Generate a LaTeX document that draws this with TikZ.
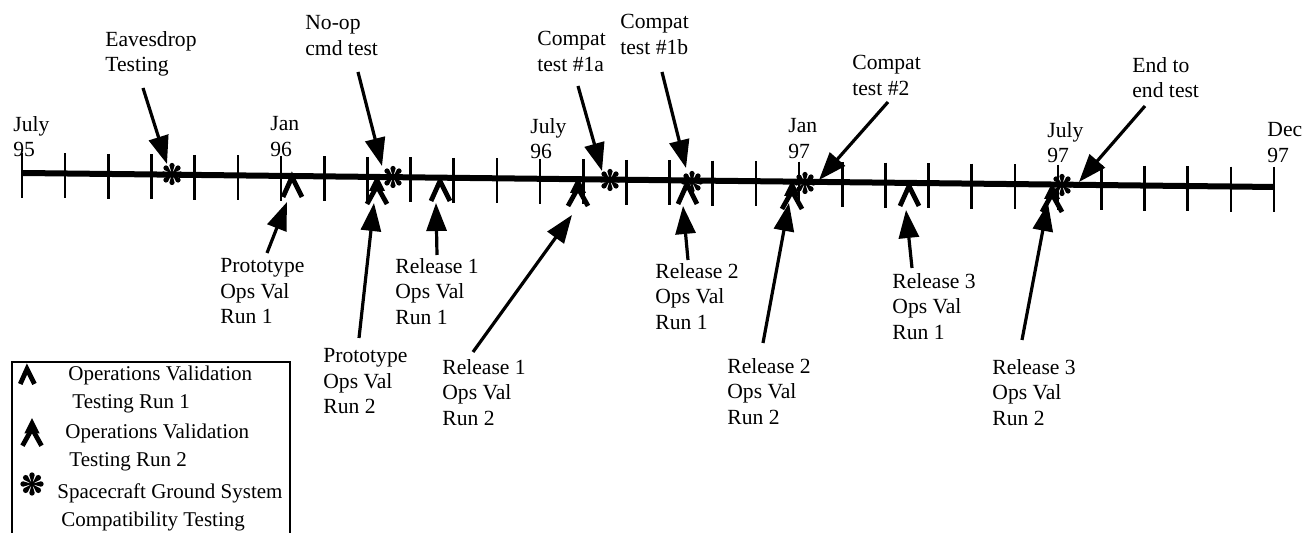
\documentclass[tikz,border=0pt]{standalone}
\usepackage{fontspec}
\setmainfont{Liberation Serif}
\usetikzlibrary{arrows.meta}
\begin{document}
\begin{tikzpicture}[x=0.5pt,y=-0.5pt,
  lbl/.style={anchor=north west, inner sep=0pt, align=left, font=\fontsize{10.8}{12.8}\selectfont},
  leg/.style={anchor=north west, inner sep=0pt, align=left, font=\fontsize{10.5}{14}\selectfont},
  pointer/.style={line width=1.6pt, -{Triangle[length=14pt,width=10pt]}},
  axis/.style={line width=3pt},
  tickmark/.style={line width=1.3pt},
  runone/.pic={\draw[line width=2.4pt, line join=miter] (-9,20) -- (0,0) -- (10,20);},
  runtwo/.pic={\fill (0,-3) -- (-8,13) -- (8,13) -- cycle;
               \draw[line width=2.4pt, line join=miter] (-10,26) -- (0,8) -- (10,26);},
  compat/.pic={\foreach \a in {0,45,...,315}{\fill[rotate=\a] (0,0) -- (8.5,2.6) arc (90:-90:2.6) -- cycle;}
               \fill (0,0) circle (2.5);}
]
\useasboundingbox (0,0) rectangle (1314,533);

% timeline
\coordinate (tlstart) at (22,173);
\coordinate (tlend) at (1274,187);
\draw[axis] (tlstart) -- (tlend);
\foreach \i in {0,...,29}{
  \pgfmathsetmacro\xx{22+\i*43.172}
  \pgfmathsetmacro\yy{173+\i*14/29}
  \draw[tickmark] (\xx,\yy-20) -- (\xx,\yy+25);
}

% month labels
\node[lbl] (m1) at (13,116) {July\\95};
\node[lbl] (m2) at (270,116) {Jan\\96};
\node[lbl] (m3) at (530,118) {July\\96};
\node[lbl] (m4) at (788,118) {Jan\\97};
\node[lbl] (m5) at (1047,122) {July\\97};
\node[lbl] (m6) at (1267,122) {Dec\\97};

% symbols on the timeline
\pic at (172,174) {compat};
\pic at (393,177) {compat};
\pic at (610,180) {compat};
\pic at (692,182) {compat};
\pic at (805,183) {compat};
\pic at (1062,185) {compat};

\pic at (292,177) {runone};
\pic at (440,181) {runone};
\pic at (687,184) {runone};
\pic at (909,186) {runone};

\pic at (377,178) {runtwo};
\pic at (578,180) {runtwo};
\pic at (792,183) {runtwo};
\pic at (1052,186) {runtwo};

% top labels
\node[lbl] (eaves) at (105,31) {Eavesdrop\\Testing};
\node[lbl] (noop) at (305,15) {No-op\\cmd test};
\node[lbl] (ca) at (537,31) {Compat\\test \#1a};
\node[lbl] (cb) at (620,14) {Compat\\test \#1b};
\node[lbl] (cc) at (852,55) {Compat\\test \#2};
\node[lbl] (ee) at (1132,57) {End to\\end test};

% top arrows
\coordinate (eavesA) at (143,88);   \coordinate (eavesB) at (167,164);
\coordinate (noopA) at (358,72);    \coordinate (noopB) at (382,166);
\coordinate (caA) at (578,86);      \coordinate (caB) at (602,171);
\coordinate (cbA) at (662,72);      \coordinate (cbB) at (686,168);
\coordinate (ccA) at (888,102);     \coordinate (ccB) at (819,180);
\coordinate (eeA) at (1145,106);    \coordinate (eeB) at (1079,182);
\draw[pointer] (eavesA) -- (eavesB);
\draw[pointer] (noopA) -- (noopB);
\draw[pointer] (caA) -- (caB);
\draw[pointer] (cbA) -- (cbB);
\draw[pointer] (ccA) -- (ccB);
\draw[pointer] (eeA) -- (eeB);

% bottom labels
\node[lbl] (p1) at (220,258) {Prototype\\Ops Val\\Run 1};
\node[lbl] (p2) at (323,348) {Prototype\\Ops Val\\Run 2};
\node[lbl] (r11) at (395,258) {Release 1\\Ops Val\\Run 1};
\node[lbl] (r12) at (442,359) {Release 1\\Ops Val\\Run 2};
\node[lbl] (r21) at (655,263) {Release 2\\Ops Val\\Run 1};
\node[lbl] (r22) at (727,358) {Release 2\\Ops Val\\Run 2};
\node[lbl] (r31) at (892,273) {Release 3\\Ops Val\\Run 1};
\node[lbl] (r32) at (992,359) {Release 3\\Ops Val\\Run 2};

% bottom arrows
\coordinate (p1A) at (267,253);   \coordinate (p1B) at (287,202);
\coordinate (p2A) at (359,338);   \coordinate (p2B) at (374,203);
\coordinate (r11A) at (437,255);  \coordinate (r11B) at (436,203);
\coordinate (r12A) at (473,352);  \coordinate (r12B) at (572,215);
\coordinate (r21A) at (688,260);  \coordinate (r21B) at (683,206);
\coordinate (r22A) at (763,343);  \coordinate (r22B) at (789,203);
\coordinate (r31A) at (912,268);  \coordinate (r31B) at (906,210);
\coordinate (r32A) at (1022,340); \coordinate (r32B) at (1048,203);
\draw[pointer] (p1A) -- (p1B);
\draw[pointer] (p2A) -- (p2B);
\draw[pointer] (r11A) -- (r11B);
\draw[pointer] (r12A) -- (r12B);
\draw[pointer] (r21A) -- (r21B);
\draw[pointer] (r22A) -- (r22B);
\draw[pointer] (r31A) -- (r31B);
\draw[pointer] (r32A) -- (r32B);

% legend
\draw[line width=1pt] (12,545) -- (12,362) -- (290,362) -- (290,545);
\pic[scale=0.75] at (27,369) {runone};
\pic[scale=0.95] at (32,421) {runtwo};
\pic[scale=1.05] at (32,484) {compat};
\node[leg] (lg1) at (68,366) {Operations Validation\\\hspace{2pt}Testing Run 1};
\node[leg] (lg2) at (65,424) {Operations Validation\\\hspace{2pt}Testing Run 2};
\node[leg] (lg3) at (57,483) {Spacecraft Ground System\\\hspace{2pt}Compatibility Testing};
\end{tikzpicture}
\end{document}
